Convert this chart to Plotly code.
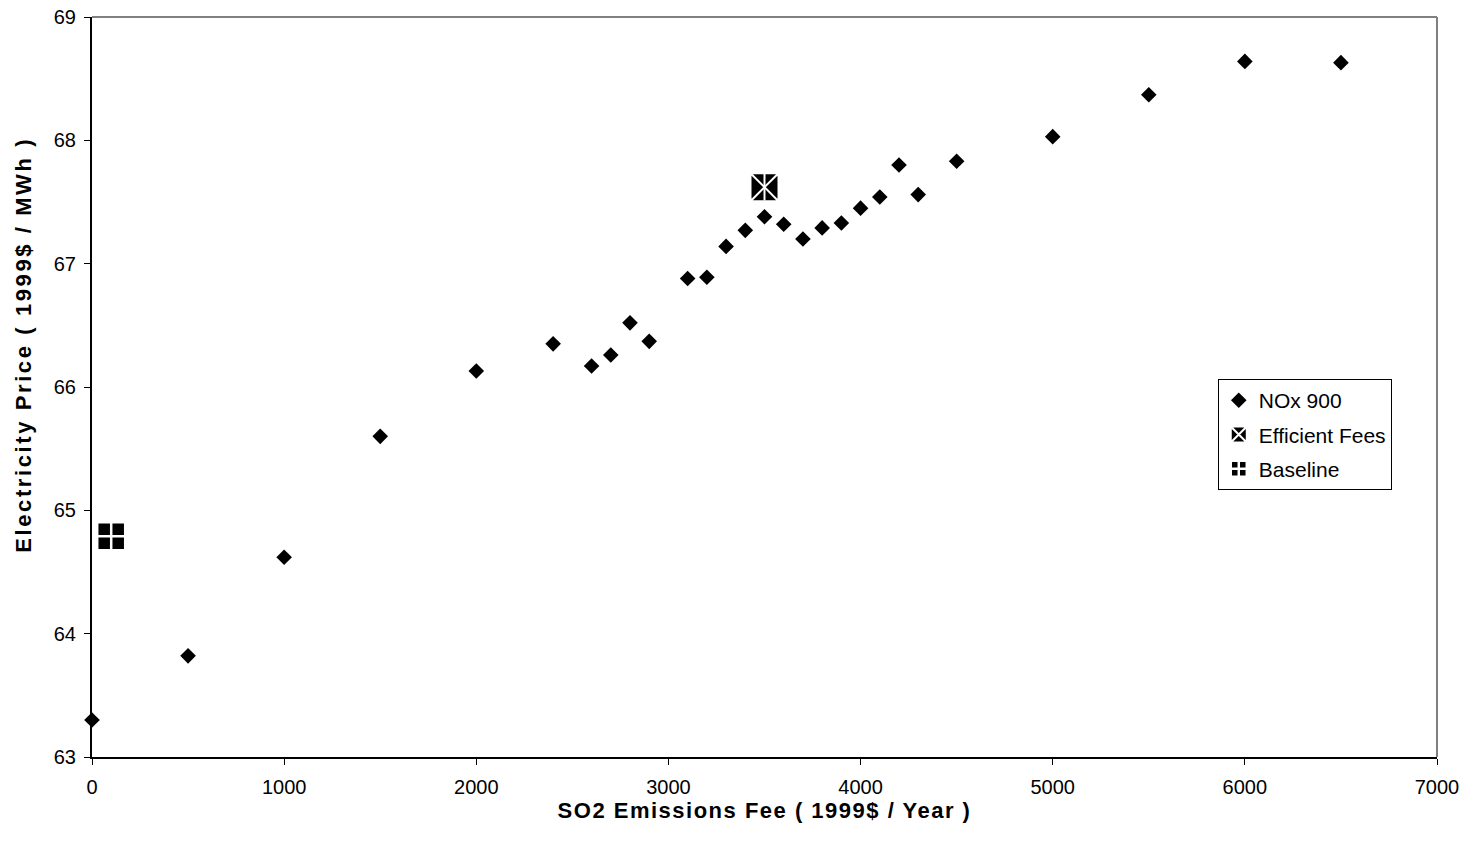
import plotly.graph_objects as go

# Data
so2_fee = [0, 500, 1000, 1500, 2000, 2400, 2600, 2700, 2800, 2900, 3100, 3200, 3300,
           3400, 3500, 3600, 3700, 3800, 3900, 4000, 4100, 4200, 4300, 4500, 5000,
           5500, 6000, 6500]
price_nox900 = [63.30, 63.82, 64.62, 65.60, 66.13, 66.35, 66.17, 66.26, 66.52, 66.37,
                66.88, 66.89, 67.14, 67.27, 67.38, 67.32, 67.20, 67.29, 67.33, 67.45,
                67.54, 67.80, 67.56, 67.83, 68.03, 68.37, 68.64, 68.63]
efficient_x = [3500]
efficient_y = [67.62]
baseline_x = [100]
baseline_y = [64.79]

x_ticks = [0, 1000, 2000, 3000, 4000, 5000, 6000, 7000]
y_ticks = [63, 64, 65, 66, 67, 68, 69]

FONT = "Arial, 'Liberation Sans', sans-serif"

fig = go.Figure()

fig.add_trace(go.Scatter(
    x=so2_fee, y=price_nox900, mode="markers", name="NOx 900",
    legendgroup="a", cliponaxis=False,
    marker=dict(symbol="diamond", size=12, color="black"),
))
fig.add_trace(go.Scatter(
    x=efficient_x, y=efficient_y, mode="markers", name="Efficient Fees",
    legendgroup="b", cliponaxis=False,
    marker=dict(symbol="square-x", size=28, color="black",
                line=dict(color="white", width=2)),
))
fig.add_trace(go.Scatter(
    x=efficient_x, y=efficient_y, mode="markers", showlegend=False,
    legendgroup="b", cliponaxis=False, hoverinfo="skip",
    marker=dict(symbol="line-ns", size=19, color="white",
                line=dict(color="white", width=2)),
))
fig.add_trace(go.Scatter(
    x=baseline_x, y=baseline_y, mode="markers", name="Baseline",
    legendgroup="c", cliponaxis=False,
    marker=dict(symbol="square-cross", size=28, color="black",
                line=dict(color="white", width=2.5)),
))

axis_common = dict(
    showline=True, linecolor="black", linewidth=2, mirror=False,
    ticks="outside", ticklen=6, tickwidth=1, tickcolor="black",
    showgrid=False, zeroline=False, automargin=False,
    tickfont=dict(family=FONT, size=20, color="black"),
)

fig.update_xaxes(
    range=[0, 7000], tickvals=x_ticks, ticktext=[str(v) for v in x_ticks],
    ticklabelstandoff=5,
    title=dict(text='<b><span style="letter-spacing:1.5px">SO2 Emissions Fee ( 1999$ / Year )</span></b>',
               font=dict(family=FONT, size=22, color="black"), standoff=2),
    **axis_common,
)
fig.update_yaxes(
    range=[63, 69], tickvals=y_ticks, ticktext=[str(v) for v in y_ticks],
    ticklabelstandoff=4,
    **axis_common,
)

# y-axis title placed like the original (slightly above the plot centre)
fig.add_annotation(
    text='<b><span style="letter-spacing:2.6px">Electricity Price ( 1999$ / MWh )</span></b>',
    xref="paper", yref="paper", x=-0.0506, y=0.557,
    xanchor="center", yanchor="middle", textangle=-90, showarrow=False,
    font=dict(family=FONT, size=22, color="black"),
)

# gray top and right frame lines
fig.add_shape(type="line", xref="paper", yref="paper", x0=0, x1=1, y0=1, y1=1,
              line=dict(color="#808080", width=2))
fig.add_shape(type="line", xref="paper", yref="paper", x0=1, x1=1, y0=0, y1=1,
              line=dict(color="#808080", width=2))

fig.update_layout(
    width=1471, height=845,
    margin=dict(l=92, r=34, t=17, b=88, autoexpand=False),
    paper_bgcolor="white", plot_bgcolor="white",
    font=dict(family=FONT, size=20, color="black"),
    showlegend=True,
    legend=dict(
        x=0.837, y=0.5107, xanchor="left", yanchor="top",
        bgcolor="white", bordercolor="black", borderwidth=1,
        font=dict(family=FONT, size=21, color="black"),
        traceorder="grouped", tracegroupgap=4,
    ),
)

fig.write_html("out.html")
